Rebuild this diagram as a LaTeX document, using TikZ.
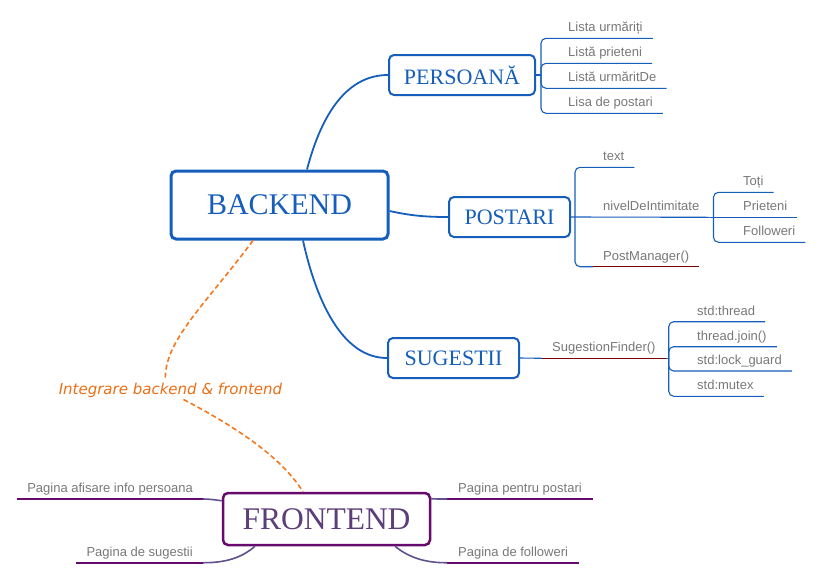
\documentclass[tikz,border=0pt]{standalone}
\usepackage{fontspec}
\setmainfont{Liberation Serif}
\newfontfamily\leaffont{Liberation Sans}
\newfontfamily\notefont{DejaVu Sans}
\definecolor{mapblue}{RGB}{22,94,187}
\definecolor{frontpurple}{RGB}{102,10,110}
\definecolor{fronttext}{RGB}{92,62,122}
\definecolor{frontlink}{RGB}{96,80,140}
\definecolor{leafgray}{RGB}{120,120,120}
\definecolor{leafred}{RGB}{128,0,0}
\definecolor{noteorange}{RGB}{235,110,20}
\definecolor{dashorange}{RGB}{245,120,30}

\begin{document}
\begin{tikzpicture}[x=1pt,y=-1pt,
	topic/.style={draw=mapblue,line width=2pt,rounded corners=5pt,fill=white,text=mapblue,
		font=\fontsize{22}{22}\selectfont,minimum height=40pt,inner sep=0pt},
	leaf/.style={anchor=south west,inner xsep=10pt,inner ysep=3.5pt,text height=9.5pt,text depth=3pt,
		text=leafgray,font=\leaffont\fontsize{13}{13}\selectfont},
	branch/.style={mapblue,line width=1.1pt,rounded corners=5pt},
	link/.style={mapblue,line width=1.8pt},
	redline/.style={leafred,line width=1.1pt},
	pageline/.style={frontpurple,line width=2pt},
	pagelink/.style={frontlink,line width=1.6pt},
	dashlink/.style={dashorange,line width=1.6pt,dash pattern=on 5pt off 3pt}]
			\useasboundingbox (0,0) rectangle (821,579);
			\node[topic,line width=3pt,minimum width=217pt,minimum height=68pt,font=\fontsize{30}{30}\selectfont] (backend) at (279.5,205) {BACKEND};
			\node[topic,minimum width=146pt] (persoana) at (462,75) {PERSOANĂ};
			\node[topic,minimum width=121pt] (postari) at (509.5,217) {POSTARI};
			\node[topic,minimum width=131pt] (sugestii) at (453.5,358) {SUGESTII};
			\node[topic,draw=frontpurple,text=fronttext,line width=2.5pt,minimum width=207pt,minimum height=52pt,font=\fontsize{31.5}{31.5}\selectfont] (frontend) at (326.5,519) {FRONTEND};
			\draw[link] ([xshift=27.5pt]backend.north) .. controls (322,112) and (348,75) .. (persoana.west);
			\draw[link] ([yshift=-6pt]backend.east) .. controls (412,216) and (428,217) .. (postari.west);
			\draw[link] ([xshift=23.5pt]backend.south) .. controls (316,300) and (342,358) .. (sugestii.west);
			\node[leaf] (urmariti) at (558,38.3) {Lista urmăriți};
			\node[leaf] (prieteni) at (558,63.3) {Listă prieteni};
			\node[leaf] (urmaritde) at (558,88.3) {Listă urmăritDe};
			\node[leaf] (postarilist) at (558,113.3) {Lisa de postari};
			\coordinate (persfork) at ([xshift=5pt]persoana.east);
			\draw[branch] (persoana.east) -- (persfork);
			\foreach \c in {urmariti,prieteni,urmaritde,postarilist}
				\draw[branch] (persfork) |- (\c.south east);
			\node[leaf] (posttext) at (593,167.3) {text};
			\node[leaf] (nivel) at (593,217.3) {nivelDeIntimitate};
			\node[leaf] (manager) at (593,266.7) {PostManager()};
			\coordinate (postfork) at ([xshift=4pt]postari.east);
			\draw[branch] (postari.east) -- (nivel.south east);
			\draw[branch] (postfork) |- (posttext.south east);
			\draw[branch] (postfork) |- (manager.south west);
			\draw[redline] (manager.south west) -- (manager.south east);
			\node[leaf] (toti) at (733,192.3) {Toți};
			\node[leaf] (prieteninivel) at (733,217.3) {Prieteni};
			\node[leaf] (followeri) at (733,242.3) {Followeri};
			\coordinate (nivelfork) at ([xshift=4pt]nivel.south east);
			\draw[branch] (nivel.south east) -- (prieteninivel.south east);
			\foreach \c in {toti,followeri}
				\draw[branch] (nivelfork) |- (\c.south east);
			\node[leaf] (finder) at (542,358.3) {SugestionFinder()};
			\draw[branch] (sugestii.east) -- (finder.south west);
			\draw[redline] (finder.south west) -- (finder.south east);
			\node[leaf] (thread) at (687,321.7) {std:thread};
			\node[leaf] (join) at (687,346.7) {thread.join()};
			\node[leaf] (guard) at (687,371) {std:lock\_guard};
			\node[leaf] (mutex) at (687,396.3) {std:mutex};
			\coordinate (finderfork) at ([xshift=3pt]finder.south east);
			\draw[branch] (finder.south east) -- (finderfork);
			\foreach \c in {thread,join,guard,mutex}
				\draw[branch] (finderfork) |- (\c.south east);
			\node[leaf,anchor=south east] (infopage) at (203,499) {Pagina afisare info persoana};
			\node[leaf,anchor=south east] (sugpage) at (203,562.7) {Pagina de sugestii};
			\node[leaf,inner xsep=11pt] (postpage) at (447,499) {Pagina pentru postari};
			\node[leaf,inner xsep=11pt] (followpage) at (447,562.7) {Pagina de followeri};
			\foreach \c in {infopage,sugpage,postpage,followpage}
				\draw[pageline] (\c.south west) -- (\c.south east);
			\draw[pagelink] ([yshift=-9pt]frontend.north west) .. controls (216,500) and (210,499) .. (infopage.south east);
			\draw[pagelink] ([xshift=-71.5pt]frontend.south) .. controls (245,555) and (230,563) .. (sugpage.south east);
			\draw[pagelink] ([yshift=-7pt]frontend.north east) .. controls (436,499) and (440,499) .. (postpage.south west);
			\draw[pagelink] ([xshift=68.5pt]frontend.south) .. controls (408,557) and (425,563) .. (followpage.south west);
			\node[font=\notefont\itshape\fontsize{15}{15}\selectfont,text=noteorange,inner sep=2pt] (integrare) at (170.5,390) {Integrare backend \& frontend};
			\draw[dashlink] ([xshift=-26.5pt]backend.south) .. controls (205,305) and (163,342) .. ([xshift=-5pt]integrare.north);
			\draw[dashlink] ([xshift=13pt]integrare.south) .. controls (232,425) and (280,455) .. ([xshift=-23.5pt]frontend.north);
		\end{tikzpicture}
\end{document}
